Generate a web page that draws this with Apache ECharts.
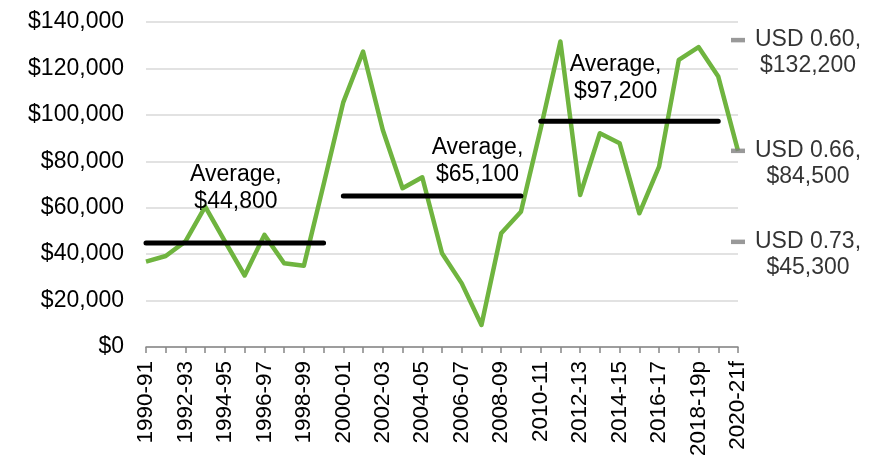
<!DOCTYPE html>
<html>
<head>
<meta charset="utf-8">
<script src="https://cdn.jsdelivr.net/npm/echarts@6/dist/echarts.min.js"></script>
<style>html,body{margin:0;padding:0;background:#fff;}#c{width:881px;height:460px;}</style>
</head>
<body>
<div id="c"></div>
<script>
var categories = ['1990-91','1991-92','1992-93','1993-94','1994-95','1995-96','1996-97','1997-98','1998-99','1999-00',
  '2000-01','2001-02','2002-03','2003-04','2004-05','2005-06','2006-07','2007-08','2008-09','2009-10',
  '2010-11','2011-12','2012-13','2013-14','2014-15','2015-16','2016-17','2017-18','2018-19p','2019-20f','2020-21f'];
var values = [36800, 39200, 45500, 60500, 45500, 30800, 48300, 36100, 35000, 70000,
  105500, 127300, 93500, 68400, 73100, 40400, 27400, 9500, 49000, 58300,
  94000, 131600, 65500, 92100, 87800, 57600, 77700, 123700, 129200, 116500, 84500];
var averages = [44800, 65100, 97200];
var averageRanges = [[0, 9], [10, 19], [20, 29]];
var averageLabels = ['Average,\n$44,800', 'Average,\n$65,100', 'Average,\n$97,200'];
var markerValues = [132200, 84500, 45300];
var markerLabels = ['USD 0.60,\n$132,200', 'USD 0.66,\n$84,500', 'USD 0.73,\n$45,300'];
var yTicks = {min: 0, max: 140000, interval: 20000};

var FONT = 'Liberation Sans, Arial, sans-serif';
function fmtMoney(v) { return '$' + v.toString().replace(/\B(?=(\d{3})+(?!\d))/g, ','); }

// label anchors for the average annotations (category index, value, pixel offset)
var avgLabelAnchors = [
  {idx: 4, val: 68500, off: [11, 0]},
  {idx: 17, val: 80200, off: [-4, 0]},
  {idx: 24, val: 115700, off: [-4, 0]}
];

var series = [];
series.push({
  type: 'line', data: values, symbol: 'none', z: 2,
  lineStyle: {color: '#6fb43f', width: 4.5, join: 'round'},
  itemStyle: {color: '#6fb43f'}
});
averages.forEach(function (a, k) {
  var d = categories.map(function (c, i) {
    return (i >= averageRanges[k][0] && i <= averageRanges[k][1]) ? a : null;
  });
  var anc = avgLabelAnchors[k];
  series.push({
    type: 'line', data: d, symbol: 'none', z: 3, connectNulls: false,
    lineStyle: {color: '#000', width: 5, cap: 'round'},
    itemStyle: {color: '#000'},
    markPoint: {
      symbol: 'circle', symbolSize: 0, silent: true,
      data: [{coord: [anc.idx, anc.val], value: a}],
      label: {
        show: true, position: 'inside', offset: anc.off,
        formatter: averageLabels[k], color: '#000',
        fontFamily: FONT, fontSize: 23, lineHeight: 27, align: 'center'
      }
    }
  });
});
series.push({
  type: 'scatter', clip: false, z: 4,
  symbol: 'rect', symbolSize: [14, 4.5],
  itemStyle: {color: '#7f7f7f'},
  data: markerValues.map(function (v, k) {
    return {value: [categories.length - 1, v], name: markerLabels[k]};
  }),
  label: {
    show: true, position: 'inside', offset: [70, 13],
    formatter: function (p) { return p.name; },
    color: '#000', fontFamily: FONT, fontSize: 23, lineHeight: 26, align: 'center'
  }
});

var chart = echarts.init(document.getElementById('c'), null, {renderer: 'canvas'});
chart.setOption({
  animation: false,
  backgroundColor: '#fff',
  grid: {left: 146, right: 143, top: 22, bottom: 113, containLabel: false},
  xAxis: {
    type: 'category', data: categories, boundaryGap: false,
    axisLine: {lineStyle: {color: '#868686', width: 1.5}},
    axisTick: {show: true, length: 6, interval: 0, lineStyle: {color: '#868686', width: 1.5}},
    axisLabel: {interval: 1, rotate: 90, margin: 14, color: '#000', fontFamily: FONT, fontSize: 22.5},
    splitLine: {show: false}
  },
  yAxis: {
    type: 'value', min: yTicks.min, max: yTicks.max, interval: yTicks.interval,
    axisLine: {show: false}, axisTick: {show: false},
    axisLabel: {margin: 22, color: '#000', fontFamily: FONT, fontSize: 23, formatter: fmtMoney},
    splitLine: {lineStyle: {color: '#d9d9d9', width: 1.5}}
  },
  series: series
});
</script>
</body>
</html>
